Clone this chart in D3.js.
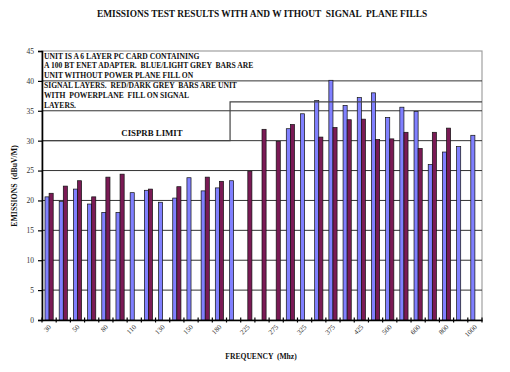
<!DOCTYPE html>
<html>
<head>
<meta charset="utf-8">
<script src="https://cdn.jsdelivr.net/npm/d3@7"></script>
<style>
  html, body { margin: 0; padding: 0; background: #fff; }
  svg text { font-family: "Liberation Serif", "DejaVu Serif", serif; }
</style>
</head>
<body>
<div id="chart"></div>
<script>
// Frequencies (MHz) - Excel only labels every other one
const categories = ["30", "40", "50", "60", "80", "90", "110", "120", "130", "140", "150",
    "160", "180", "200", "225", "250", "275", "300", "325", "350", "375", "400", "425",
    "450", "500", "550", "600", "700", "800", "900", "1000"];

// Blue/light grey: without power plane fill on signal layers
const withoutFill = [20.6, 19.8, 21.9, 19.4, 18.0, 18.0, 21.3, 21.7, 19.7, 20.4, 23.8,
    21.6, 22.1, 23.3, null, null, null, 32.0, 34.5, 36.7, 40.1, 35.9, 37.2,
    38.0, 33.9, 35.6, 34.9, 26.0, 28.1, 29.0, 30.9];

// Red/dark grey: with power plane fill on signal layers
const withFill = [21.2, 22.4, 23.3, 20.6, 23.9, 24.4, null, 21.9, null, 22.3, null,
    23.9, 23.2, null, 24.9, 31.9, 29.9, 32.7, null, 30.6, 32.2, 33.5, 33.6,
    30.2, 30.3, 31.4, 28.7, 31.4, 32.1, null, null];

const yTicks = [0, 5, 10, 15, 20, 25, 30, 35, 40, 45];

// CISPR B limit, step given in category-index units
const limitLevels = [30, 36.5];
const limitStep = 13.25;

const noteLines = [
    "UNIT IS A 6 LAYER PC CARD CONTAINING",
    "A 100 BT ENET ADAPTER.  BLUE/LIGHT GREY  BARS ARE",
    "UNIT WITHOUT POWER PLANE FILL ON",
    "SIGNAL LAYERS.  RED/DARK GREY  BARS ARE UNIT",
    "WITH  POWERPLANE  FILL ON SIGNAL",
    "LAYERS."
];

const W = 510, H = 372;
const plot = { left: 42, right: 482, top: 51, bottom: 320 };

const svg = d3.select('#chart').append('svg')
    .attr('width', W)
    .attr('height', H);

const x = d3.scaleBand()
    .domain(categories)
    .range([plot.left, plot.right])
    .padding(0);

const xIdx = d3.scaleLinear()
    .domain([0, categories.length])
    .range([plot.left, plot.right]);

const series = ['without', 'with'];
const x1 = d3.scaleBand()
    .domain(series)
    .range([0, x.bandwidth()])
    .paddingInner(0)
    .paddingOuter(0.73);

const y = d3.scaleLinear()
    .domain([0, 45])
    .range([plot.bottom, plot.top]);

const colors = { without: '#8080ff', with: '#7a1a55' };

// Title
svg.append('text')
    .attr('x', 262)
    .attr('y', 17)
    .attr('text-anchor', 'middle')
    .style('font-size', '9.4px')
    .style('font-weight', 'bold')
    .style('fill', '#111')
    .style('white-space', 'pre')
    .text('EMISSIONS TEST RESULTS WITH AND W ITHOUT  SIGNAL  PLANE FILLS');

// Plot border (light grey)
svg.append('rect')
    .attr('x', plot.left)
    .attr('y', plot.top)
    .attr('width', plot.right - plot.left)
    .attr('height', plot.bottom - plot.top)
    .style('fill', 'none')
    .style('stroke', '#a0a0a0')
    .style('stroke-width', 1.2);

// Gridlines
svg.append('g')
    .selectAll('line')
    .data(yTicks.filter(d => d > 0 && d < 45))
    .enter()
    .append('line')
    .attr('x1', plot.left)
    .attr('x2', plot.right)
    .attr('y1', d => y(d))
    .attr('y2', d => y(d))
    .style('stroke', '#333')
    .style('stroke-width', 1);

// Bars
const rows = categories.map((c, i) => ({ cat: c, without: withoutFill[i], with: withFill[i] }));

const groups = svg.append('g')
    .selectAll('g')
    .data(rows)
    .enter()
    .append('g')
    .attr('transform', d => `translate(${x(d.cat)},0)`);

groups.selectAll('rect')
    .data(d => series.filter(s => d[s] != null).map(s => ({ key: s, value: d[s] })))
    .enter()
    .append('rect')
    .attr('x', d => x1(d.key))
    .attr('y', d => y(d.value))
    .attr('width', x1.bandwidth())
    .attr('height', d => y(0) - y(d.value))
    .style('fill', d => colors[d.key])
    .style('stroke', '#111')
    .style('stroke-width', 0.7);

// CISPR B limit line
const limitPath = d3.path();
limitPath.moveTo(xIdx(0), y(limitLevels[0]));
limitPath.lineTo(xIdx(limitStep), y(limitLevels[0]));
limitPath.lineTo(xIdx(limitStep), y(limitLevels[1]));
limitPath.lineTo(xIdx(categories.length), y(limitLevels[1]));
svg.append('path')
    .attr('d', limitPath.toString())
    .style('fill', 'none')
    .style('stroke', '#444')
    .style('stroke-width', 1.2);

svg.append('text')
    .attr('x', 152)
    .attr('y', 136)
    .attr('text-anchor', 'middle')
    .style('font-size', '8.8px')
    .style('font-weight', 'bold')
    .style('fill', '#111')
    .text('CISPRB LIMIT');

// Note box text
svg.append('g')
    .selectAll('text')
    .data(noteLines)
    .enter()
    .append('text')
    .attr('x', 44)
    .attr('y', (d, i) => 58.5 + i * 9.9)
    .style('font-size', '7.6px')
    .style('font-weight', 'bold')
    .style('fill', '#111')
    .style('white-space', 'pre')
    .text(d => d);

// Y axis
const yAxis = svg.append('g')
    .attr('transform', `translate(${plot.left},0)`)
    .call(d3.axisLeft(y).tickValues(yTicks).tickSize(4).tickPadding(4));
yAxis.select('.domain').style('stroke', '#000').style('stroke-width', 1.6);
yAxis.selectAll('.tick line').style('stroke', '#000').style('stroke-width', 1.2);
yAxis.selectAll('.tick text')
    .style('font-family', '"Liberation Serif", serif')
    .style('font-size', '7.5px')
    .style('fill', '#333');

// X axis: labels at centres, every other category
const xAxis = svg.append('g')
    .attr('transform', `translate(0,${plot.bottom})`)
    .call(d3.axisBottom(x).tickSize(0).tickFormat((d, i) => i % 2 === 0 ? d : ''));
xAxis.select('.domain').style('stroke', '#000').style('stroke-width', 1.6);
xAxis.selectAll('.tick text')
    .style('font-family', '"Liberation Serif", serif')
    .style('font-size', '7px')
    .style('fill', '#333')
    .attr('text-anchor', 'end')
    .attr('transform', 'translate(1,6) rotate(-45)')
    .attr('dy', '0.3em')
    .attr('y', 0)
    .attr('x', 0);

// Tick marks at category boundaries (crossing the axis)
svg.append('g')
    .selectAll('line')
    .data(d3.range(categories.length + 1))
    .enter()
    .append('line')
    .attr('x1', d => xIdx(d))
    .attr('x2', d => xIdx(d))
    .attr('y1', plot.bottom - 2.5)
    .attr('y2', plot.bottom + 2.5)
    .style('stroke', '#000')
    .style('stroke-width', 1.2);

// Axis titles
svg.append('text')
    .attr('transform', 'translate(17,186) rotate(-90)')
    .attr('text-anchor', 'middle')
    .style('font-size', '7.8px')
    .style('font-weight', 'bold')
    .style('fill', '#111')
    .style('white-space', 'pre')
    .text('EMISSIONS  (dBuV/M)');

svg.append('text')
    .attr('x', 261)
    .attr('y', 359)
    .attr('text-anchor', 'middle')
    .style('font-size', '7.6px')
    .style('font-weight', 'bold')
    .style('fill', '#111')
    .style('white-space', 'pre')
    .text('FREQUENCY  (Mhz)');
</script>
</body>
</html>
